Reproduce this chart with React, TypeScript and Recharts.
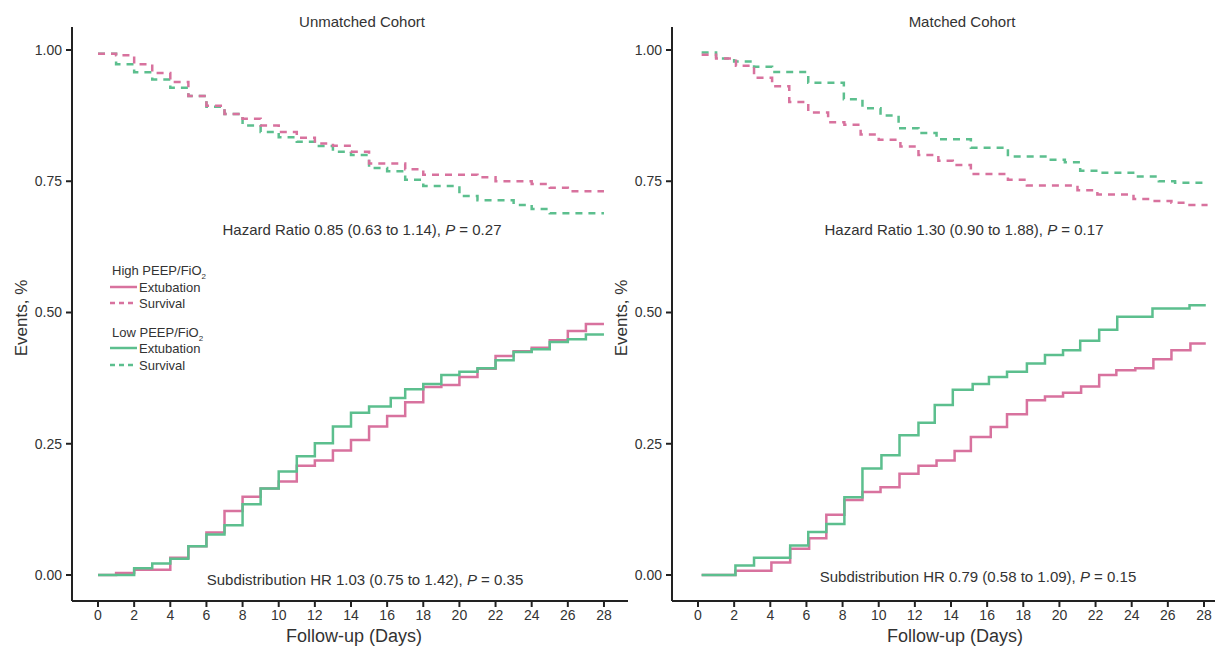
import React from 'react';
import { LineChart, Line, XAxis, YAxis } from 'recharts';

type Pt = { day: number; value: number };
const pts = (a: number[][]): Pt[] => a.map(([day, value]) => ({ day, value }));

// ---- Unmatched cohort ----
const unmatchedHighExtubation = pts([
  [0, 0], [1, 0.004], [2, 0.01], [4, 0.033], [5, 0.055], [6, 0.081], [7, 0.122], [8, 0.149],
  [9, 0.165], [10, 0.178], [11, 0.208], [12, 0.218], [13, 0.237], [14, 0.257], [15, 0.283],
  [16, 0.303], [17, 0.329], [18, 0.358], [19, 0.362], [20, 0.377], [21, 0.393], [22, 0.417],
  [23, 0.426], [24, 0.433], [25, 0.447], [26, 0.465], [27, 0.478], [28, 0.478],
]);
const unmatchedLowExtubation = pts([
  [0, 0], [2, 0.013], [3, 0.022], [4, 0.031], [5, 0.055], [6, 0.077], [7, 0.095], [8, 0.135],
  [9, 0.165], [10, 0.197], [11, 0.226], [12, 0.251], [13, 0.283], [14, 0.309], [15, 0.321],
  [16.2, 0.337], [17, 0.354], [18, 0.364], [19, 0.381], [20, 0.387], [21, 0.394], [22, 0.409],
  [23, 0.425], [24, 0.43], [25, 0.444], [26, 0.449], [27, 0.458], [28, 0.458],
]);
const unmatchedHighSurvival = pts([
  [0, 0.993], [1, 0.99], [2, 0.973], [3, 0.956], [4, 0.939], [5, 0.9125], [6, 0.894], [7, 0.878],
  [8, 0.869], [9, 0.856], [10, 0.844], [11, 0.833], [12, 0.822], [13, 0.8175], [14, 0.806],
  [15, 0.784], [17, 0.773], [18, 0.7625], [21, 0.7575], [22, 0.75], [24, 0.745], [25, 0.7375],
  [26, 0.731], [28, 0.731],
]);
const unmatchedLowSurvival = pts([
  [0, 0.993], [1, 0.973], [2, 0.9575], [3, 0.944], [4, 0.928], [5, 0.9125], [6, 0.892], [7, 0.878],
  [8, 0.856], [9, 0.844], [10, 0.834], [11, 0.825], [12, 0.817], [13, 0.806], [14, 0.8],
  [15, 0.775], [16, 0.769], [17, 0.753], [18, 0.741], [20, 0.722], [21, 0.714], [23, 0.705],
  [24, 0.697], [25, 0.689], [28, 0.689],
]);

// ---- Matched cohort ----
const matchedHighExtubation = pts([
  [0.2, 0], [2.07, 0.008], [4.06, 0.024], [5.1, 0.05], [6.15, 0.07], [7.1, 0.115], [8.1, 0.143],
  [9.1, 0.158], [10.1, 0.167], [11.15, 0.193], [12.2, 0.208], [13.2, 0.218], [14.2, 0.236],
  [15.1, 0.263], [16.2, 0.282], [17.1, 0.306], [18.2, 0.333], [19.2, 0.34], [20.2, 0.347],
  [21.2, 0.359], [22.2, 0.381], [23.15, 0.39], [24.2, 0.394], [25.2, 0.411], [26.2, 0.428],
  [27.25, 0.441], [28.1, 0.441],
]);
const matchedLowExtubation = pts([
  [0.2, 0], [2.07, 0.018], [3.1, 0.033], [5.1, 0.056], [6.1, 0.082], [7.1, 0.097], [8.1, 0.148],
  [9.1, 0.203], [10.15, 0.228], [11.15, 0.266], [12.2, 0.29], [13.1, 0.324], [14.1, 0.353],
  [15.2, 0.364], [16.1, 0.377], [17.1, 0.387], [18.2, 0.403], [19.2, 0.419], [20.2, 0.428],
  [21.15, 0.446], [22.2, 0.467], [23.2, 0.492], [25.15, 0.5075], [27.2, 0.514], [28.1, 0.514],
]);
const matchedHighSurvival = pts([
  [0.2, 0.991], [1, 0.984], [2.1, 0.97], [3.1, 0.947], [4.1, 0.931], [5.05, 0.901], [6.1, 0.881],
  [7.2, 0.8625], [8.1, 0.8575], [9, 0.839], [10, 0.829], [11.2, 0.816], [12.2, 0.8], [13.3, 0.789],
  [14.1, 0.781], [15.1, 0.764], [17.15, 0.753], [18.2, 0.742], [21, 0.733], [22.1, 0.725],
  [24.1, 0.716], [25.2, 0.7125], [26.2, 0.709], [27.2, 0.705], [28.2, 0.705],
]);
const matchedLowSurvival = pts([
  [0.2, 0.995], [1, 0.984], [2, 0.978], [3.1, 0.968], [4.1, 0.958], [6.1, 0.9375], [8.07, 0.906],
  [9.1, 0.889], [10.1, 0.875], [11.1, 0.851], [12.2, 0.842], [13.2, 0.83], [15.1, 0.814],
  [17.15, 0.797], [19.4, 0.791], [20.3, 0.786], [21.15, 0.77], [22.2, 0.766], [24.2, 0.759],
  [25.5, 0.75], [26.4, 0.747], [28.2, 0.747],
]);

const xTicks = [0, 2, 4, 6, 8, 10, 12, 14, 16, 18, 20, 22, 24, 26, 28];
const yTicks = [0, 0.25, 0.5, 0.75, 1];
const titles = ['Unmatched Cohort', 'Matched Cohort'];
const hazardTexts = ['Hazard Ratio 0.85 (0.63 to 1.14), ', 'Hazard Ratio 1.30 (0.90 to 1.88), '];
const hazardP = ['0.27', '0.17'];
const subdistTexts = ['Subdistribution HR 1.03 (0.75 to 1.42), ', 'Subdistribution HR 0.79 (0.58 to 1.09), '];
const subdistP = ['0.35', '0.15'];

const PINK = '#d8729e';
const GREEN = '#5cbf8e';
const AXIS = '#222';
const TEXT = '#333';
const FONT = '"Liberation Sans", Arial, Helvetica, sans-serif';
const DASH = '7 6';

type Series = { data: Pt[]; color: string; dashed: boolean; name: string };

function Panel({ left, width, xMax, rightMargin, series }: { left: number; width: number; xMax: number; rightMargin: number; series: Series[] }) {
  return (
    <div style={{ position: 'absolute', left, top: 0 }}>
      <LineChart width={width} height={647} margin={{ top: 27, right: rightMargin, bottom: 0, left: 0 }}>
        <XAxis
          type="number"
          dataKey="day"
          domain={[-1.44, xMax]}
          ticks={xTicks}
          interval={0}
          allowDataOverflow
          height={46}
          tickSize={6}
          tickMargin={3}
          axisLine={{ stroke: AXIS, strokeWidth: 2 }}
          tickLine={{ stroke: AXIS, strokeWidth: 2 }}
          tick={{ fontSize: 14, fill: TEXT, fontFamily: FONT }}
        />
        <YAxis
          type="number"
          domain={[-0.0495, 1.0438]}
          ticks={yTicks}
          allowDataOverflow
          width={72}
          tickSize={6}
          tickMargin={4}
          tickFormatter={(v: number) => v.toFixed(2)}
          axisLine={{ stroke: AXIS, strokeWidth: 2 }}
          tickLine={{ stroke: AXIS, strokeWidth: 2 }}
          tick={{ fontSize: 14, fill: TEXT, fontFamily: FONT }}
        />
        {series.map((s) => (
          <Line
            key={s.name}
            data={s.data}
            dataKey="value"
            type="stepAfter"
            stroke={s.color}
            strokeWidth={2.5}
            strokeDasharray={s.dashed ? DASH : undefined}
            dot={false}
            activeDot={false}
            isAnimationActive={false}
          />
        ))}
      </LineChart>
    </div>
  );
}

export default function App() {
  const leftSeries: Series[] = [
    { name: 'us-low', data: unmatchedLowSurvival, color: GREEN, dashed: true },
    { name: 'us-high', data: unmatchedHighSurvival, color: PINK, dashed: true },
    { name: 'ue-high', data: unmatchedHighExtubation, color: PINK, dashed: false },
    { name: 'ue-low', data: unmatchedLowExtubation, color: GREEN, dashed: false },
  ];
  const rightSeries: Series[] = [
    { name: 'ms-low', data: matchedLowSurvival, color: GREEN, dashed: true },
    { name: 'ms-high', data: matchedHighSurvival, color: PINK, dashed: true },
    { name: 'me-high', data: matchedHighExtubation, color: PINK, dashed: false },
    { name: 'me-low', data: matchedLowExtubation, color: GREEN, dashed: false },
  ];
  const offs = [0, 600];
  const hazardX = [362, 964];
  const subdistX = [365, 978];
  const subdistY = [585, 582];
  const axisTitleX = [354, 955];
  return (
    <div style={{ position: 'absolute', left: 0, top: 0, width: 1215, height: 647, background: '#fff', overflow: 'hidden' }}>
      <Panel left={0} width={640} xMax={29.33} rightMargin={12} series={leftSeries} />
      <Panel left={600} width={615} xMax={28.61} rightMargin={0} series={rightSeries} />
      <svg width={1215} height={647} style={{ position: 'absolute', left: 0, top: 0, pointerEvents: 'none' }} fontFamily={FONT}>
        {offs.map((o, i) => (
          <g key={i} fill={TEXT}>
            <text x={362 + o} y={27} fontSize={15} textAnchor="middle">{titles[i]}</text>
            <text x={hazardX[i]} y={235} fontSize={15} textAnchor="middle">
              {hazardTexts[i]}<tspan fontStyle="italic">P</tspan> = {hazardP[i]}
            </text>
            <text x={subdistX[i]} y={subdistY[i]} fontSize={15} textAnchor="middle">
              {subdistTexts[i]}<tspan fontStyle="italic">P</tspan> = {subdistP[i]}
            </text>
            <text x={27 + o} y={318} fontSize={17} textAnchor="middle" transform={`rotate(-90, ${27 + o}, 318)`}>Events, %</text>
            <text x={axisTitleX[i]} y={642} fontSize={18} textAnchor="middle">Follow-up (Days)</text>
          </g>
        ))}
        <g fill={TEXT} fontSize={13}>
          <text x={112} y={274.5}>High PEEP/FiO<tspan fontSize={8} dy={4}>2</tspan></text>
          <line x1={110} x2={137} y1={287} y2={287} stroke={PINK} strokeWidth={2.5} />
          <text x={139} y={291.5}>Extubation</text>
          <line x1={110} x2={137} y1={303} y2={303} stroke={PINK} strokeWidth={2.5} strokeDasharray="5 4" />
          <text x={139} y={307.5}>Survival</text>
          <text x={112} y={336.5}>Low PEEP/FiO<tspan fontSize={8} dy={4}>2</tspan></text>
          <line x1={110} x2={137} y1={348} y2={348} stroke={GREEN} strokeWidth={2.5} />
          <text x={139} y={352.5}>Extubation</text>
          <line x1={110} x2={137} y1={365} y2={365} stroke={GREEN} strokeWidth={2.5} strokeDasharray="5 4" />
          <text x={139} y={369.5}>Survival</text>
        </g>
      </svg>
    </div>
  );
}
